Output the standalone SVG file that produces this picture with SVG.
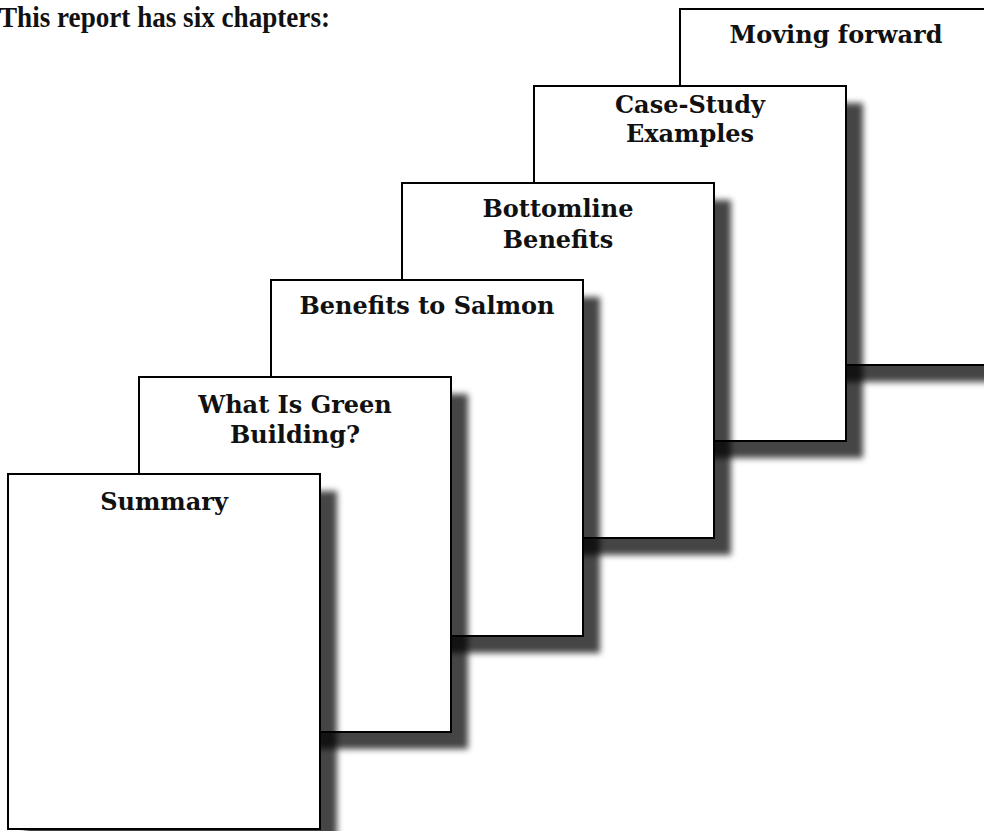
<svg xmlns="http://www.w3.org/2000/svg" width="984" height="831" viewBox="0 0 984 831">
<defs>
<filter id="sh" x="-20%" y="-20%" width="150%" height="150%">
<feGaussianBlur stdDeviation="3"/>
</filter>
<style>
.page{fill:#fff;stroke:#000;stroke-width:2}
.shadow{fill:#000;fill-opacity:0.73;filter:url(#sh)}
.lbl{font-family:"DejaVu Serif","Liberation Serif",serif;font-weight:bold;font-size:24px;fill:#111;text-anchor:middle}
.title{font-family:"Liberation Serif","DejaVu Serif",serif;font-weight:bold;font-size:29px;fill:#111}
</style>
</defs>
<rect width="984" height="831" fill="#fff"/>
<text class="title" x="-1" y="27" textLength="331" lengthAdjust="spacingAndGlyphs">This report has six chapters:</text>
<g id="ch6">
<rect class="shadow" x="697" y="26" width="312" height="356"/>
<rect class="page" x="680" y="9" width="312" height="356"/>
<text class="lbl" x="836" y="43">Moving forward</text>
</g>
<g id="ch5">
<rect class="shadow" x="551" y="103" width="312" height="355"/>
<rect class="page" x="534" y="86" width="312" height="355"/>
<text class="lbl" x="690" y="113">Case-Study</text>
<text class="lbl" x="690" y="142">Examples</text>
</g>
<g id="ch4">
<rect class="shadow" x="419" y="200" width="312" height="355"/>
<rect class="page" x="402" y="183" width="312" height="355"/>
<text class="lbl" x="558" y="217">Bottomline</text>
<text class="lbl" x="558" y="248">Benefits</text>
</g>
<g id="ch3">
<rect class="shadow" x="288" y="297" width="312" height="356"/>
<rect class="page" x="271" y="280" width="312" height="356"/>
<text class="lbl" x="427" y="314">Benefits to Salmon</text>
</g>
<g id="ch2">
<rect class="shadow" x="156" y="394" width="312" height="355"/>
<rect class="page" x="139" y="377" width="312" height="355"/>
<text class="lbl" x="295" y="413">What Is Green</text>
<text class="lbl" x="295" y="443">Building?</text>
</g>
<g id="ch1">
<rect class="shadow" x="25" y="491" width="312" height="355"/>
<rect class="page" x="8" y="474" width="312" height="355"/>
<text class="lbl" x="164" y="510">Summary</text>
</g>
<g id="connectors"/>
</svg>
